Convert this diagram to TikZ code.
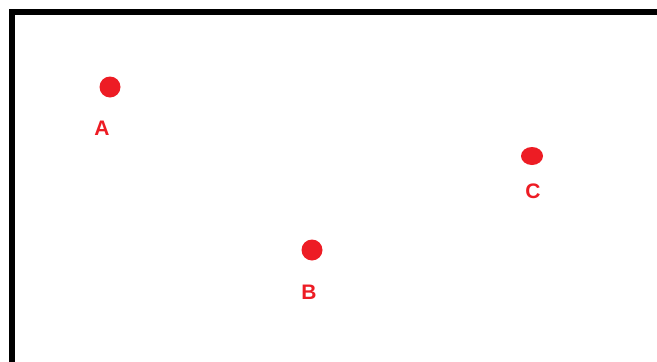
\documentclass[tikz,border=0pt]{standalone}
\usepackage{fontspec}
\setmainfont{Liberation Sans}
\usetikzlibrary{shapes.geometric}
\definecolor{paintred}{RGB}{237,28,36}
\tikzset{
  spot/.style={circle,fill=paintred,inner sep=0pt,minimum size=21pt},
  spotlabel/.style={text=paintred,font=\fontsize{21}{21}\selectfont\bfseries,inner sep=0pt}
}
\begin{document}
\begin{tikzpicture}[x=1pt,y=-1pt]
\useasboundingbox (0,0) rectangle (657,362);
\clip (0,0) rectangle (657,362);
\draw[line width=6pt] (12,11.5) rectangle (720,420);
\node[spot] (a) at (110,87) {};
\node[spot] (b) at (312,250) {};
\node[ellipse,fill=paintred,inner sep=0pt,minimum width=22pt,minimum height=18pt] (c) at (532,156) {};
\node[spotlabel] (la) at (102,128) {A};
\node[spotlabel] (lb) at (309,292) {B};
\node[spotlabel] (lc) at (533,191) {C};
\end{tikzpicture}
\end{document}
